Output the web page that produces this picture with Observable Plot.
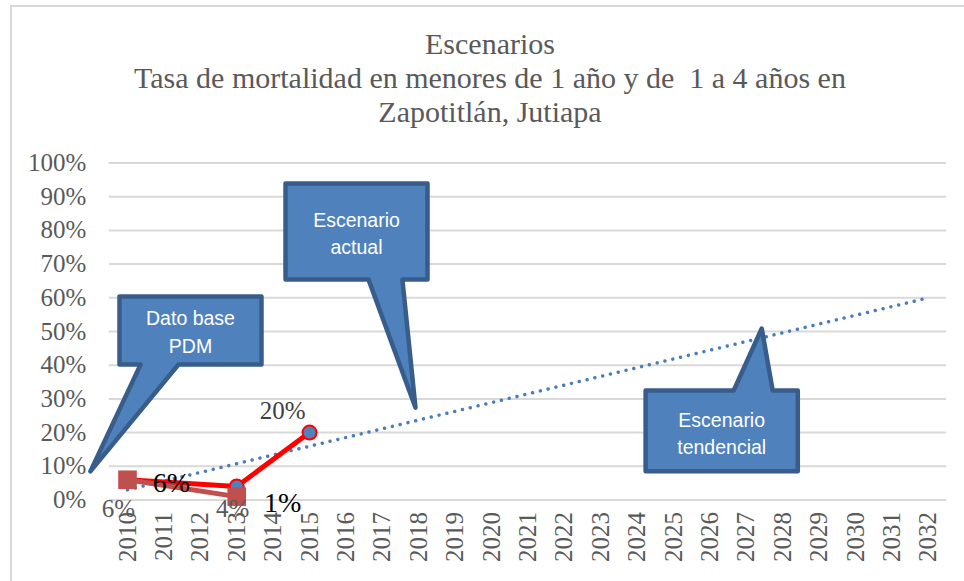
<!DOCTYPE html>
<html>
<head>
<meta charset="utf-8">
<script src="https://cdn.jsdelivr.net/npm/d3@7"></script>
<script src="https://cdn.jsdelivr.net/npm/@observablehq/plot@0.6"></script>
<style>
  html, body { margin: 0; padding: 0; background: #fff; overflow: hidden; width: 964px; height: 581px; }
  #frame { position: absolute; left: 10px; top: 5px; width: 980px; height: 600px; border: 2px solid #d9d9d9; box-sizing: border-box; }
  #title { position: absolute; left: 10px; top: 27px; width: 960px; text-align: center; font-family: "Liberation Serif", serif; font-size: 30px; line-height: 34px; color: #595959; white-space: pre; }
  #chart { position: absolute; left: 0; top: 140px; }
</style>
</head>
<body>
<div id="frame"></div>
<div id="title">Escenarios
Tasa de mortalidad en menores de 1 año y de  1 a 4 años en
Zapotitlán, Jutiapa</div>
<div id="chart"></div>
<script>
// ---- data ----
const yearTicks = [2010, 2011, 2012, 2013, 2014, 2015, 2016, 2017, 2018, 2019, 2020, 2021,
                   2022, 2023, 2024, 2025, 2026, 2027, 2028, 2029, 2030, 2031, 2032];
const pctTicks = [0, 10, 20, 30, 40, 50, 60, 70, 80, 90, 100];

const actualYears = [2010, 2013, 2015];
const actualValues = [6, 4, 20];

const baseYears = [2010, 2013];
const baseValues = [6, 1];

const trendYears = [2010, 2032];
const trendValues = [3, 60];

// callout annotations in data units (year, percent)
const calloutTexts = ["Dato base\nPDM", "Escenario\nactual", "Escenario\ntendencial"];
const calloutCenters = [[2011.73, 50.4], [2016.29, 79.6], [2026.32, 20.2]];
const calloutShapes = [
  [[2009.78, 60.4], [2013.68, 60.4], [2013.68, 40.2], [2011.40, 40.2], [2008.98, 8.5], [2010.36, 40.2], [2009.78, 40.2], [2009.78, 60.4]],
  [[2014.34, 93.9], [2018.24, 93.9], [2018.24, 65.4], [2017.55, 65.4], [2017.91, 27.4], [2016.62, 65.4], [2014.34, 65.4], [2014.34, 93.9]],
  [[2024.23, 32.5], [2026.65, 32.5], [2027.42, 50.9], [2027.72, 32.5], [2028.41, 32.5], [2028.41, 8.5], [2024.23, 8.5], [2024.23, 32.5]]
];

// ---- tables ----
const actual = actualYears.map((y, i) => ({year: y, value: actualValues[i]}));
const base = baseYears.map((y, i) => ({year: y, value: baseValues[i]}));
const trend = trendYears.map((y, i) => ({year: y, value: trendValues[i]}));
const calloutPts = calloutShapes.flatMap((pts, k) => pts.map(p => ({id: k, year: p[0], value: p[1]})));
const calloutLabels = calloutTexts.map((t, k) => ({text: t, year: calloutCenters[k][0], value: calloutCenters[k][1]}));

const serif = "Liberation Serif";
const gray = "#595959";

const lbl = (rows, opts) => Plot.text(rows, {
  x: "year", y: "value", text: d => d.value + "%",
  fontFamily: serif, textAnchor: "middle", lineAnchor: "middle", ...opts
});

const chart = Plot.plot({
  width: 964,
  height: 441,
  marginTop: 22.5,
  marginBottom: 81.5,
  marginLeft: 108.8,
  marginRight: 17.8,
  style: {fontFamily: serif, background: "transparent", overflow: "visible"},
  x: {domain: [2009.5, 2032.5]},
  y: {domain: [0, 100]},
  marks: [
    Plot.gridY(pctTicks, {stroke: "#d9d9d9", strokeOpacity: 1, strokeWidth: 2}),
    Plot.axisY(pctTicks, {tickSize: 0, tickPadding: 23, fontSize: 25, fill: gray, tickFormat: d => d + "%", label: null}),
    Plot.axisX(yearTicks, {tickSize: 0, tickPadding: 12, tickRotate: -90, fontSize: 25, fill: gray, tickFormat: d => String(d), label: null}),
    Plot.line(trend, {x: "year", y: "value", stroke: "#4a7ebb", strokeWidth: 3.5, strokeDasharray: "0.01 8", strokeLinecap: "round"}),
    Plot.line(actual, {x: "year", y: "value", stroke: "#ff0000", strokeWidth: 5}),
    Plot.dot(actual, {x: "year", y: "value", r: 7, fill: "#4f81bd", stroke: "#ff0000", strokeWidth: 2}),
    Plot.line(base, {x: "year", y: "value", stroke: "#c0504d", strokeWidth: 5}),
    Plot.dot(base, {x: "year", y: "value", symbol: "square", r: 10.5, fill: "#c0504d", stroke: "none"}),
    // labels for actual series (gray)
    lbl(actual.filter((d, i) => i === 0), {dx: -9, dy: 29, fontSize: 25, fill: gray}),
    lbl(actual.filter((d, i) => i === 1), {dx: -4, dy: 22.5, fontSize: 25, fill: gray}),
    lbl(actual.filter((d, i) => i === 2), {dx: -27, dy: -22, fontSize: 25, fill: "#404040"}),
    // labels for base series (black)
    lbl(base.filter((d, i) => i === 0), {dx: 44, dy: 3.5, fontSize: 28, fill: "#000"}),
    lbl(base.filter((d, i) => i === 1), {dx: 46, dy: 6, fontSize: 28, fill: "#000"}),
    // callouts
    Plot.line(calloutPts, {x: "year", y: "value", z: "id", fill: "#4f81bd", stroke: "#385d8a", strokeWidth: 4.5, strokeLinejoin: "round"}),
    Plot.text(calloutLabels, {x: "year", y: "value", text: "text", fill: "#fff", fontFamily: "Liberation Sans", fontSize: 19.5, lineHeight: 1.4, textAnchor: "middle", lineAnchor: "middle"})
  ]
});
document.getElementById("chart").appendChild(chart);
</script>
</body>
</html>
